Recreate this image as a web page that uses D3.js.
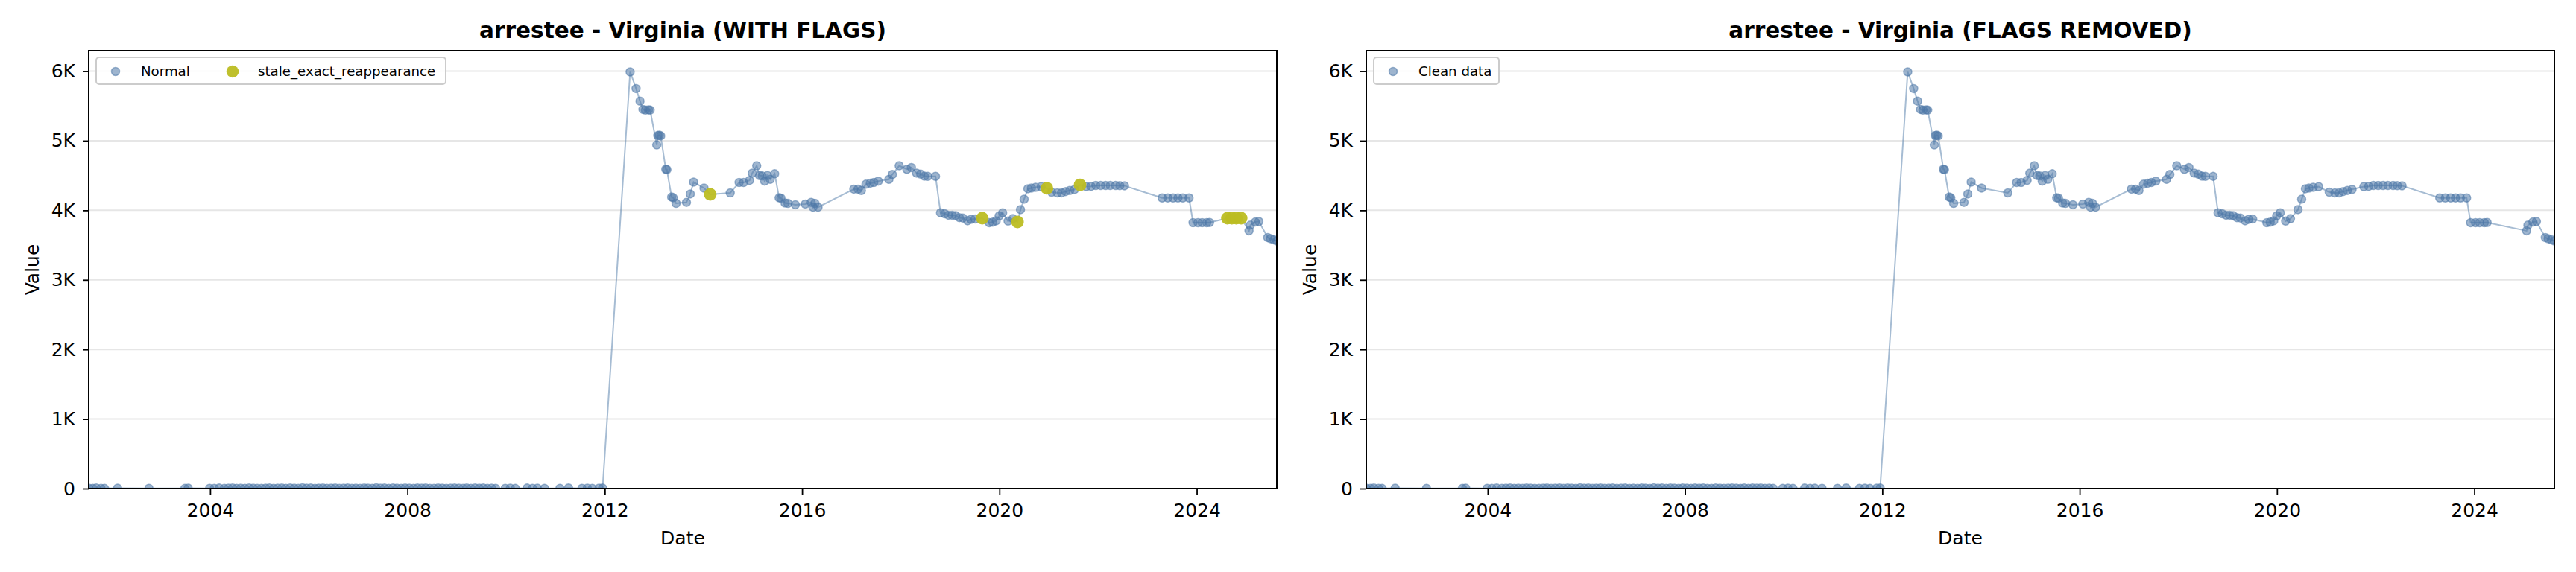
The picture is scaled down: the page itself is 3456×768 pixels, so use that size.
<!DOCTYPE html>
<html>
<head>
<meta charset="utf-8">
<script src="https://cdn.jsdelivr.net/npm/d3@7"></script>
<style>
  body { margin: 0; background: #fff; }
  text { font-family: "DejaVu Sans", sans-serif; }
</style>
</head>
<body>
<div id="chart"></div>
<script>
// ---- data ----
// near-zero readings before 2012 (normal)
var earlyDates = [
  "2001-07-16","2001-08-15","2001-09-10","2001-10-15","2001-11-10",
  "2002-02-15","2002-10-05",
  "2003-06-28","2003-07-22","2003-12-28",
  "2004-02-01","2004-03-08","2004-04-15","2004-05-15","2004-06-15","2004-07-15","2004-08-15","2004-09-15","2004-10-15","2004-11-15","2004-12-15",
  "2005-01-15","2005-02-15","2005-03-15","2005-04-15","2005-05-15","2005-06-15","2005-07-15","2005-08-15","2005-09-15","2005-10-15","2005-11-15","2005-12-15",
  "2006-01-15","2006-02-15","2006-03-15","2006-04-15","2006-05-15","2006-06-15","2006-07-15","2006-08-15","2006-09-15","2006-10-15","2006-11-15","2006-12-15",
  "2007-01-15","2007-02-15","2007-03-15","2007-04-15","2007-05-15","2007-06-15","2007-07-15","2007-08-15","2007-09-15","2007-10-15","2007-11-15","2007-12-15",
  "2008-01-15","2008-02-15","2008-03-15","2008-04-15","2008-05-15","2008-06-15","2008-07-15","2008-08-15","2008-09-15","2008-10-15","2008-11-15","2008-12-15",
  "2009-01-15","2009-02-15","2009-03-15","2009-04-15","2009-05-15","2009-06-15","2009-07-15","2009-08-15","2009-09-15","2009-10-15","2009-12-25",
  "2010-02-01","2010-03-10","2010-06-05","2010-07-15","2010-08-20","2010-10-12",
  "2011-02-03","2011-04-08","2011-07-16","2011-08-25","2011-10-01","2011-11-20","2011-12-16"
];
var earlyValues = [
  6, 3, 8, 4, 2,
  5, 3,
  2, 6, 4,
  3, 7, 2, 5, 9, 4, 6, 3, 8, 5, 2,
  4, 6, 9, 3, 5, 7, 2, 8, 6, 4, 10, 5,
  7, 3, 6, 9, 4, 5, 8, 2, 6, 7, 3, 5,
  4, 8, 6, 3, 10, 5, 7, 2, 9, 6, 4, 8,
  5, 3, 7, 6, 9, 2, 4, 8, 6, 3, 5, 7,
  6, 4, 9, 3, 7, 5, 8, 2, 6, 4, 3,
  5, 2, 7, 4, 6, 3,
  4, 8, 3, 6, 2, 5, 7
];

// readings from mid 2012 on (normal)
var laterDates = [
  "2012-07-07","2012-08-20","2012-09-18","2012-10-10","2012-10-28","2012-11-20","2012-12-02",
  "2013-01-20","2013-01-28","2013-02-08","2013-02-18","2013-03-28","2013-04-05","2013-05-10","2013-05-22","2013-06-12","2013-08-28","2013-09-25","2013-10-20",
  "2014-01-05","2014-07-18","2014-09-22","2014-10-25","2014-12-08","2014-12-28",
  "2015-01-30","2015-02-20","2015-03-12","2015-03-30","2015-04-20","2015-05-10","2015-06-12","2015-07-15","2015-07-28","2015-08-28","2015-09-18","2015-11-12",
  "2016-01-25","2016-03-08","2016-03-22","2016-04-05","2016-04-28",
  "2017-01-18","2017-02-18","2017-03-15","2017-04-18","2017-05-20","2017-06-15","2017-07-18","2017-10-05","2017-10-30","2017-12-20",
  "2018-02-15","2018-03-20","2018-04-28","2018-05-28","2018-06-25","2018-07-20","2018-09-15","2018-10-22","2018-11-22","2018-12-20",
  "2019-01-15","2019-02-10","2019-03-10","2019-04-05","2019-05-10","2019-06-05","2019-07-05","2019-10-18","2019-11-12","2019-12-08","2019-12-30",
  "2020-01-25","2020-03-05","2020-04-10","2020-06-05","2020-07-02","2020-07-30","2020-08-25","2020-09-25","2020-11-05",
  "2021-01-22","2021-03-05","2021-04-05","2021-05-05","2021-06-05","2021-07-10","2021-10-05","2021-11-10","2021-12-15",
  "2022-01-20","2022-02-25","2022-04-01","2022-05-10","2022-06-10","2022-07-15",
  "2023-04-20","2023-06-01","2023-07-10","2023-08-15","2023-09-20","2023-11-05","2023-12-05",
  "2024-01-10","2024-02-10","2024-03-15","2024-04-05",
  "2025-01-22","2025-02-01","2025-03-10","2025-04-05","2025-06-10","2025-07-01","2025-07-25","2025-08-16"
];
var laterValues = [
  5990, 5750, 5570, 5450, 5440, 5445, 5440,
  4940, 5075, 5080, 5070, 4590, 4585, 4190, 4180, 4100, 4115, 4235, 4405,
  4320, 4250, 4400, 4400, 4430, 4535,
  4640, 4500, 4495, 4420, 4500, 4445, 4525, 4180, 4175, 4105, 4100, 4080,
  4090, 4115, 4045, 4100, 4045,
  4305, 4305, 4285, 4375, 4390, 4400, 4420, 4445, 4515, 4640,
  4590, 4615, 4535, 4520, 4490, 4488, 4488, 3965, 3950, 3930,
  3930, 3925, 3895, 3890, 3850, 3870, 3875, 3822, 3830, 3850, 3920,
  3965, 3845, 3880, 4010, 4160, 4310, 4320, 4330, 4340,
  4260, 4250, 4250, 4270, 4285, 4300, 4340, 4345, 4357,
  4357, 4357, 4357, 4357, 4355, 4353,
  4178, 4178, 4178, 4178, 4178, 4178, 3822,
  3822, 3822, 3822, 3825,
  3705, 3786, 3832, 3840, 3608, 3592, 3575, 3560
];

// stale_exact_reappearance flags
var flagDates = ["2014-02-20","2019-08-27","2020-05-14","2020-12-18","2021-08-20",
                 "2024-08-15","2024-09-17","2024-10-20","2024-11-25"];
var flagValues = [4230, 3885, 3832, 4317, 4365, 3886, 3886, 3886, 3886];

var yTicks = [0, 1000, 2000, 3000, 4000, 5000, 6000];

// ---- set up ----
var blue = "#4e79a7";
var olive = "#bcbd22";
var parseDate = d3.timeParse("%Y-%m-%d");

function rows(dates, values) {
  return dates.map(function(d, i) { return {date: parseDate(d), value: values[i]}; });
}
var normal = rows(earlyDates, earlyValues).concat(rows(laterDates, laterValues));
var flagged = rows(flagDates, flagValues);
var allRows = normal.concat(flagged).sort(function(a, b) { return a.date - b.date; });

var svg = d3.select("#chart").append("svg")
  .attr("width", 3456)
  .attr("height", 768);

var plotTop = 68, plotBottom = 656;

function drawPanel(id, left, right, title, lineData, withFlags, legend) {
  var x = d3.scaleTime()
    .domain(d3.extent(allRows, d => d.date))
    .range([left, right]);
  var y = d3.scaleLinear().domain([0, 6295]).range([plotBottom, plotTop]);

  var g = svg.append("g");

  // clip to the axes box
  g.append("clipPath").attr("id", "clip" + id)
    .append("rect")
    .attr("x", left).attr("y", plotTop)
    .attr("width", right - left).attr("height", plotBottom - plotTop);

  // horizontal grid
  g.append("g").selectAll("line")
    .data(yTicks.slice(1))
    .enter().append("line")
    .attr("x1", left).attr("x2", right)
    .attr("y1", d => y(d)).attr("y2", d => y(d))
    .attr("stroke", "#e6e6e6")
    .attr("stroke-width", 2);

  var plot = g.append("g").attr("clip-path", "url(#clip" + id + ")");

  var line = d3.line().x(d => x(d.date)).y(d => y(d.value));
  plot.append("path")
    .datum(lineData)
    .attr("d", line)
    .attr("fill", "none")
    .attr("stroke", blue)
    .attr("stroke-opacity", 0.5)
    .attr("stroke-width", 2);

  plot.append("g").selectAll("circle")
    .data(normal)
    .enter().append("circle")
    .attr("cx", d => x(d.date))
    .attr("cy", d => y(d.value))
    .attr("r", 5.5)
    .attr("fill", blue)
    .attr("fill-opacity", 0.55)
    .attr("stroke", blue)
    .attr("stroke-opacity", 0.55)
    .attr("stroke-width", 1.5);

  if (withFlags) {
    plot.append("g").selectAll("circle")
      .data(flagged)
      .enter().append("circle")
      .attr("cx", d => x(d.date))
      .attr("cy", d => y(d.value))
      .attr("r", 8.5)
      .attr("fill", olive)
      .attr("fill-opacity", 0.95);
  }

  // axes
  var xAxis = g.append("g")
    .attr("transform", "translate(0," + plotBottom + ")")
    .call(d3.axisBottom(x)
      .ticks(d3.timeYear.every(4))
      .tickFormat(d3.timeFormat("%Y"))
      .tickSize(8).tickPadding(12).tickSizeOuter(0));
  var yAxis = g.append("g")
    .attr("transform", "translate(" + left + ",0)")
    .call(d3.axisLeft(y)
      .tickValues(yTicks)
      .tickFormat(d => d === 0 ? "0" : (d / 1000) + "K")
      .tickSize(8).tickPadding(10).tickSizeOuter(0));
  [xAxis, yAxis].forEach(function(a) {
    a.select(".domain").remove();
    a.selectAll(".tick line").attr("stroke", "#000").attr("stroke-width", 1.8);
    a.selectAll(".tick text").attr("font-size", 25).attr("fill", "#000")
      .style("font-family", "DejaVu Sans");
  });

  // frame
  g.append("rect")
    .attr("x", left).attr("y", plotTop)
    .attr("width", right - left).attr("height", plotBottom - plotTop)
    .attr("fill", "none")
    .attr("stroke", "#000")
    .attr("stroke-width", 2);

  // titles
  g.append("text")
    .attr("x", (left + right) / 2).attr("y", 51)
    .attr("text-anchor", "middle")
    .attr("font-size", 29.5).attr("font-weight", "bold")
    .text(title);
  g.append("text")
    .attr("x", (left + right) / 2).attr("y", 731)
    .attr("text-anchor", "middle")
    .attr("font-size", 25)
    .text("Date");
  g.append("text")
    .attr("transform", "translate(" + (left - 67) + "," + ((plotTop + plotBottom) / 2) + ") rotate(-90)")
    .attr("text-anchor", "middle")
    .attr("font-size", 25)
    .text("Value");

  // legend
  var lg = g.append("g").attr("transform", "translate(" + (left + 10) + ",77)");
  lg.append("rect")
    .attr("width", legend.width).attr("height", 36)
    .attr("rx", 4)
    .attr("fill", "#fff").attr("fill-opacity", 0.8)
    .attr("stroke", "#cccccc").attr("stroke-width", 2);
  legend.items.forEach(function(it) {
    lg.append("circle")
      .attr("cx", it.dx).attr("cy", 19)
      .attr("r", it.r)
      .attr("fill", it.color).attr("fill-opacity", it.op)
      .attr("stroke", it.color).attr("stroke-opacity", it.op)
      .attr("stroke-width", it.r > 7 ? 0 : 1.5);
    lg.append("text")
      .attr("x", it.dx + 34).attr("y", 25)
      .attr("font-size", 18.2)
      .text(it.label);
  });
}

drawPanel("L", 119, 1713, "arrestee - Virginia (WITH FLAGS)", allRows, true, {
  width: 469,
  items: [
    {label: "Normal", color: blue, op: 0.55, r: 5.5, dx: 26},
    {label: "stale_exact_reappearance", color: olive, op: 0.95, r: 8.3, dx: 183}
  ]
});
drawPanel("R", 1833, 3427, "arrestee - Virginia (FLAGS REMOVED)", normal, false, {
  width: 168,
  items: [
    {label: "Clean data", color: blue, op: 0.55, r: 5.5, dx: 26}
  ]
});
</script>
</body>
</html>
